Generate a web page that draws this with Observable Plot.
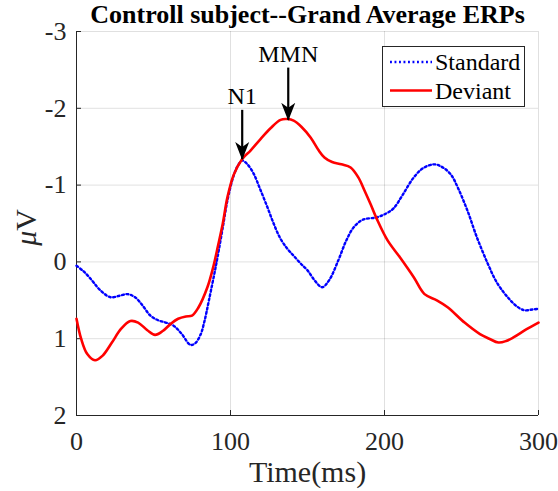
<!DOCTYPE html>
<html><head><meta charset="utf-8">
<script src="https://cdn.jsdelivr.net/npm/d3@7"></script>
<script src="https://cdn.jsdelivr.net/npm/@observablehq/plot@0.6"></script>
<style>
body{margin:0;background:#fff;}
#wrap{position:relative;width:558px;height:491px;font-family:"Liberation Serif","Times New Roman",serif;}
#legend{position:absolute;left:382px;top:46px;}
</style></head><body><div id="wrap"></div>
<script>
// ---- data ----
const stdTime  = [0,5,10,15,22,28,33,38,43,48,53,58,63,68,74,77,80.5,83,86,91,95,98,102,105,107.6,111,115,119,124,128,132.5,137,141,146,150,155,159.5,164,170,175,180,186,195,201,206,212,219,225,232,237,243,248,254,260,267,273,280,286,291,296,300];
const stdValue = [0.05,0.13,0.24,0.36,0.46,0.44,0.42,0.46,0.57,0.70,0.76,0.79,0.83,0.93,1.08,1.06,0.95,0.78,0.50,0.00,-0.45,-0.80,-1.12,-1.26,-1.32,-1.27,-1.15,-0.96,-0.71,-0.50,-0.30,-0.17,-0.08,0.03,0.11,0.25,0.33,0.24,-0.02,-0.27,-0.45,-0.55,-0.58,-0.63,-0.70,-0.88,-1.10,-1.22,-1.27,-1.24,-1.14,-0.95,-0.66,-0.32,0.02,0.27,0.46,0.58,0.63,0.62,0.61];
const devTime  = [0,3,7,12,17,23,29,35,40,46,51,56,61,66,71,75,79,85,89,92,95,98,102,107.6,113,119.5,126,132.5,137,141,146,152,157,161,166,172,178,183,187,191,195,202,210,219,226,234,241,252,262,268,274,279,284,292,300];
const devValue = [0.74,1.00,1.20,1.28,1.22,1.05,0.87,0.77,0.79,0.89,0.95,0.90,0.81,0.74,0.71,0.70,0.60,0.33,0.05,-0.22,-0.50,-0.84,-1.13,-1.34,-1.45,-1.60,-1.74,-1.85,-1.86,-1.84,-1.76,-1.62,-1.46,-1.36,-1.30,-1.27,-1.23,-1.10,-0.93,-0.75,-0.56,-0.28,-0.06,0.20,0.42,0.50,0.59,0.79,0.94,1.00,1.05,1.03,0.98,0.88,0.79];
const xTicks = [0,100,200,300];
const yTicks = [-3,-2,-1,0,1,2];
const annoLabel = ["N1","MMN"];
const annoTime  = [107.6,137.5];
const annoTop   = [-1.98,-2.53];
const annoTip   = [-1.34,-1.85];
const seriesNames = ["Standard","Deviant"];
const titleText = "Controll subject--Grand Average ERPs";
const xLabel = "Time(ms)";
const yLabel = "\u03bcV";

const stdRows = stdTime.map((t,i)=>({t, v: stdValue[i]}));
const devRows = devTime.map((t,i)=>({t, v: devValue[i]}));
const anno = annoLabel.map((label,i)=>({label, t: annoTime[i], top: annoTop[i], tip: annoTip[i]}));

function arrowHead(color, context) {
  const ns = "http://www.w3.org/2000/svg";
  const m = context.document.createElementNS(ns, "marker");
  m.setAttribute("viewBox", "-17 -8 18 16");
  m.setAttribute("markerWidth", 18);
  m.setAttribute("markerHeight", 16);
  m.setAttribute("markerUnits", "userSpaceOnUse");
  m.setAttribute("orient", "auto");
  m.setAttribute("refX", 0);
  m.setAttribute("refY", 0);
  const p = context.document.createElementNS(ns, "path");
  p.setAttribute("d", "M1,0L-17,-7L-12,0L-17,7Z");
  p.setAttribute("fill", color);
  p.setAttribute("stroke", "none");
  m.appendChild(p);
  return m;
}

const axisColor = "#262626";
const dotDash = "1.9 2.6";
const chart = Plot.plot({
  width: 558, height: 491,
  marginLeft: 76, marginRight: 20, marginTop: 31, marginBottom: 76,
  style: {fontFamily: '"Liberation Serif","Times New Roman",serif', color: axisColor, background: "#fff"},
  x: {domain: [0,300]},
  y: {domain: [-3,2], reverse: true},
  marks: [
    Plot.gridX(xTicks, {stroke: "#000", strokeOpacity: 0.12}),
    Plot.gridY(yTicks, {stroke: "#000", strokeOpacity: 0.12}),
    Plot.ruleX(xTicks, {insetTop: 379, stroke: axisColor}),
    Plot.ruleY(yTicks, {insetRight: 457, stroke: axisColor}),
    Plot.ruleX([0], {stroke: axisColor}),
    Plot.ruleY([2], {stroke: axisColor}),
    Plot.axisX({ticks: xTicks, tickSize: 0, tickPadding: 16, fontSize: 26, label: null, tickFormat: d => String(d)}),
    Plot.axisY({ticks: yTicks, tickSize: 0, tickPadding: 10, fontSize: 26, label: null, tickFormat: d => String(d)}),
    Plot.line(stdRows, {x: "t", y: "v", stroke: "#0000ff", strokeWidth: 2.4, strokeDasharray: dotDash, curve: "catmull-rom"}),
    Plot.line(devRows, {x: "t", y: "v", stroke: "#ff0000", strokeWidth: 2.6, curve: "catmull-rom"}),
    Plot.link(anno, {x1: "t", x2: "t", y1: "top", y2: "tip", stroke: "#000", strokeWidth: 2.2, markerEnd: arrowHead}),
    Plot.text(anno, {x: "t", y: "top", text: "label", lineAnchor: "bottom", dy: -6, fontSize: 24, fill: "#000"}),
    Plot.text([titleText], {frameAnchor: "top", lineAnchor: "middle", dy: -16.5, fontWeight: "bold", fontSize: 26, fill: "#000"}),
    Plot.text([xLabel], {frameAnchor: "bottom", lineAnchor: "middle", dy: 57, fontSize: 30, fill: axisColor}),
    Plot.text([yLabel], {frameAnchor: "left", lineAnchor: "middle", textAnchor: "middle", dx: -50, dy: 4, rotate: -90, fontSize: 30, fill: axisColor})
  ]
});
// italic mu as in the reference (TeX style)
for (const t of chart.querySelectorAll("text")) {
  if (t.textContent === yLabel) {
    t.textContent = "";
    const ns = "http://www.w3.org/2000/svg";
    const a = document.createElementNS(ns, "tspan"); a.setAttribute("font-style", "italic"); a.textContent = "\u03bc";
    const b = document.createElementNS(ns, "tspan"); b.textContent = "V";
    t.appendChild(a); t.appendChild(b);
  }
}
const wrap = document.getElementById("wrap");
wrap.appendChild(chart);

// legend box
const legend = document.createElement("div");
legend.id = "legend";
const colors = ["#0000ff","#ff0000"];
const dashes = [dotDash, null];
let svg = `<svg width="143" height="61" xmlns="http://www.w3.org/2000/svg" style="display:block">`;
svg += `<rect x="0.5" y="0.5" width="142" height="60" fill="#fff" stroke="${axisColor}" stroke-width="1"/>`;
seriesNames.forEach((name,i)=>{
  const y = 16 + i*28.5;
  svg += `<line x1="8" x2="50" y1="${y}" y2="${y}" stroke="${colors[i]}" stroke-width="2.5" ${dashes[i] ? `stroke-dasharray="${dashes[i]}"` : ""}/>`;
  svg += `<text x="53" y="${y}" dy="0.35em" font-size="24" fill="#000" font-family='"Liberation Serif","Times New Roman",serif'>${name}</text>`;
});
svg += `</svg>`;
legend.innerHTML = svg;
wrap.appendChild(legend);
</script>
</body></html>
